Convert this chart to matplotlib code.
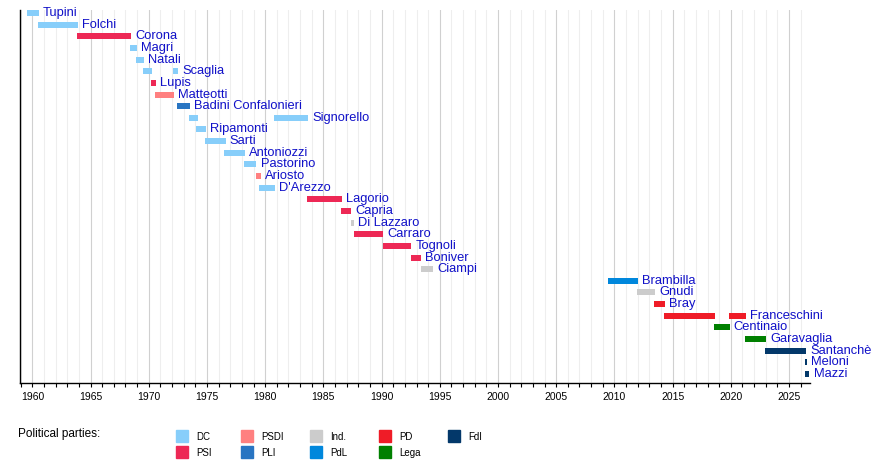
import numpy as np
import matplotlib.pyplot as plt
from matplotlib.patches import Rectangle

plt.rcParams['font.family'] = ['Liberation Sans', 'DejaVu Sans']

# ministers, one row each (top to bottom)
names = ['Tupini', 'Folchi', 'Corona', 'Magri', 'Natali', 'Scaglia', 'Lupis',
         'Matteotti', 'Badini Confalonieri', 'Signorello', 'Ripamonti', 'Sarti',
         'Antoniozzi', 'Pastorino', 'Ariosto', "D'Arezzo", 'Lagorio', 'Capria',
         'Di Lazzaro', 'Carraro', 'Tognoli', 'Boniver', 'Ciampi', 'Brambilla',
         'Gnudi', 'Bray', 'Franceschini', 'Centinaio', 'Garavaglia', 'Santanchè',
         'Meloni', 'Mazzi']

# terms: row index, start, end, party
term_row = [0, 1, 2, 3, 4, 5, 5, 6, 7, 8, 9, 9, 10, 11, 12, 13, 14, 15, 16, 17,
            18, 19, 20, 21, 22, 23, 24, 25, 26, 26, 27, 28, 29, 30, 31]
term_start = [1959.5, 1960.5, 1963.85, 1968.4, 1968.9, 1969.5, 1972.05, 1970.2,
              1970.5, 1972.4, 1973.45, 1980.8, 1974.1, 1974.8, 1976.5, 1978.15,
              1979.2, 1979.5, 1983.55, 1986.55, 1987.35, 1987.6, 1990.1, 1992.5,
              1993.35, 2009.45, 2011.95, 2013.4, 2014.25, 2019.85, 2018.55,
              2021.2, 2022.9, 2026.35, 2026.4]
term_end = [1960.55, 1963.9, 1968.45, 1968.95, 1969.55, 1970.25, 1972.5, 1970.6,
            1972.15, 1973.5, 1974.2, 1983.7, 1974.9, 1976.6, 1978.25, 1979.25,
            1979.6, 1980.85, 1986.6, 1987.4, 1987.65, 1990.15, 1992.55, 1993.4,
            1994.45, 2012.05, 2013.5, 2014.35, 2018.6, 2021.3, 2019.9,
            2023.0, 2026.45, 2026.5, 2026.75]
term_party = ['DC', 'DC', 'PSI', 'DC', 'DC', 'DC', 'DC', 'PSI', 'PSDI', 'PLI',
              'DC', 'DC', 'DC', 'DC', 'DC', 'DC', 'PSDI', 'DC', 'PSI', 'PSI',
              'Ind.', 'PSI', 'PSI', 'PSI', 'Ind.', 'PdL', 'Ind.', 'PD', 'PD', 'PD',
              'Lega', 'Lega', 'FdI', 'FdI', 'FdI']

parties = ['DC', 'PSI', 'PSDI', 'PLI', 'Ind.', 'PdL', 'PD', 'Lega', 'FdI']
party_colors = ['#87cefa', '#ed2855', '#ff8080', '#2975c2', '#cccccc',
                '#0087dc', '#ef1c27', '#008000', '#03386a']
col = dict(zip(parties, party_colors))

fig = plt.figure(figsize=(8.9, 4.62), dpi=100)
ax = fig.add_axes([20 / 890, 1 - 382.7 / 462, 790 / 890, 372.7 / 462])

ax.barh(term_row, np.array(term_end) - np.array(term_start), left=term_start,
        height=0.52, color=[col[p] for p in term_party], zorder=3)

for i, name in enumerate(names):
    last = max(e for r, e in zip(term_row, term_end) if r == i)
    ax.annotate(name, xy=(last, i), xytext=(3, 0), textcoords='offset points',
                va='center', ha='left', fontsize=9.3, color='#1010c8', zorder=4)

ax.set_xlim(1958.94, 2026.8)
ax.set_ylim(31.75, -0.26)
ax.set_xticks(np.arange(1960, 2026, 5))
ax.set_xticks(np.arange(1959, 2027, 1), minor=True)
ax.tick_params(axis='x', which='both', length=3, width=0.8, labelsize=7.5,
               direction='out', pad=4)
ax.set_yticks([])
ax.grid(axis='x', which='major', color='#d0d0d0', lw=0.8, zorder=0)
ax.grid(axis='x', which='minor', color='#eeeeee', lw=0.8, zorder=0)
for s in ['top', 'right']:
    ax.spines[s].set_visible(False)
ax.spines['left'].set_linewidth(1.0)
ax.spines['bottom'].set_linewidth(1.0)

# legend drawn in pixel layout
fig.text(18 / 890, 1 - 434 / 462, 'Political parties:', fontsize=8.5,
         va='center', ha='left')
leg_x = [176, 176, 241, 241, 310, 310, 379, 379, 448]
leg_y = [436, 452, 436, 452, 436, 452, 436, 452, 436]
for p, x, y in zip(parties, leg_x, leg_y):
    fig.patches.append(Rectangle(((x) / 890, 1 - (y + 6) / 462), 12 / 890, 12 / 462,
                                 transform=fig.transFigure, color=col[p]))
    fig.text((x + 20) / 890, 1 - (y + 1) / 462, p, fontsize=7, va='center', ha='left')

fig.savefig('out.png', dpi=100)
